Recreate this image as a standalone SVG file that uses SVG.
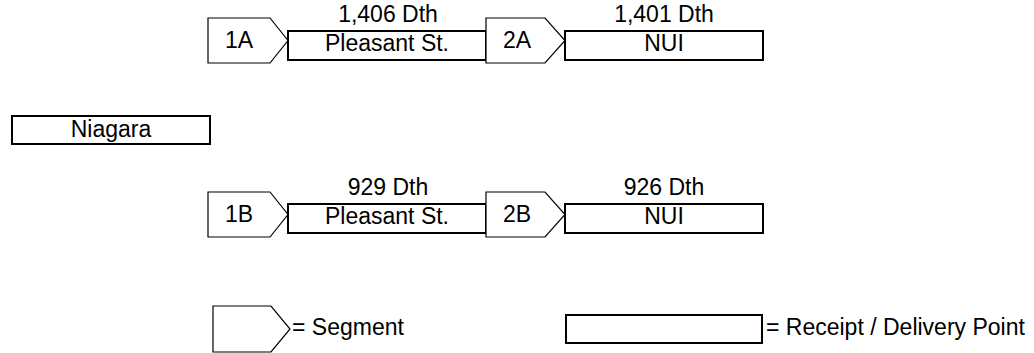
<svg xmlns="http://www.w3.org/2000/svg" width="1034" height="353" viewBox="0 0 1034 353">
<style>
.seg{fill:#fff;stroke:#000;stroke-width:1.2}
.box{fill:#fff;stroke:#000;stroke-width:2}
text{font-family:"Liberation Sans",Arial,sans-serif;font-size:23px;fill:#000}
.c{text-anchor:middle}
</style>
<rect width="1034" height="353" fill="#fff"/>
<g id="connectors"></g>
<g id="seg-1A"><polygon class="seg" points="208,18 270,18 288,40.5 270,63 208,63"/><text class="c" x="239" y="48">1A</text></g>
<g id="box-pleasant-A"><rect class="box" x="288" y="31" width="198" height="29"/><text class="c" x="387" y="51">Pleasant St.</text><text class="c" x="388" y="22">1,406 Dth</text></g>
<g id="seg-2A"><polygon class="seg" points="486,18 545,18 565,40.5 545,63 486,63"/><text class="c" x="517" y="48">2A</text></g>
<g id="box-nui-A"><rect class="box" x="565" y="31" width="198" height="29"/><text class="c" x="664" y="51">NUI</text><text class="c" x="664" y="22">1,401 Dth</text></g>
<g id="box-niagara"><rect class="box" x="12" y="116" width="198" height="28"/><text class="c" x="111" y="137">Niagara</text></g>
<g id="seg-1B"><polygon class="seg" points="208,192 270,192 288,214.5 270,237 208,237"/><text class="c" x="239" y="222">1B</text></g>
<g id="box-pleasant-B"><rect class="box" x="288" y="204" width="198" height="29"/><text class="c" x="387" y="224">Pleasant St.</text><text class="c" x="388" y="195">929 Dth</text></g>
<g id="seg-2B"><polygon class="seg" points="486,192 545,192 565,214.5 545,237 486,237"/><text class="c" x="517" y="222">2B</text></g>
<g id="box-nui-B"><rect class="box" x="565" y="204" width="198" height="29"/><text class="c" x="664" y="224">NUI</text><text class="c" x="664" y="195">926 Dth</text></g>
<g id="legend-segment"><polygon class="seg" points="213,306 271,306 290,329 271,352 213,352"/><text x="292" y="335">= Segment</text></g>
<g id="legend-point"><rect class="box" x="566" y="315" width="196" height="28"/><text x="766" y="335">= Receipt / Delivery Point</text></g>
</svg>
